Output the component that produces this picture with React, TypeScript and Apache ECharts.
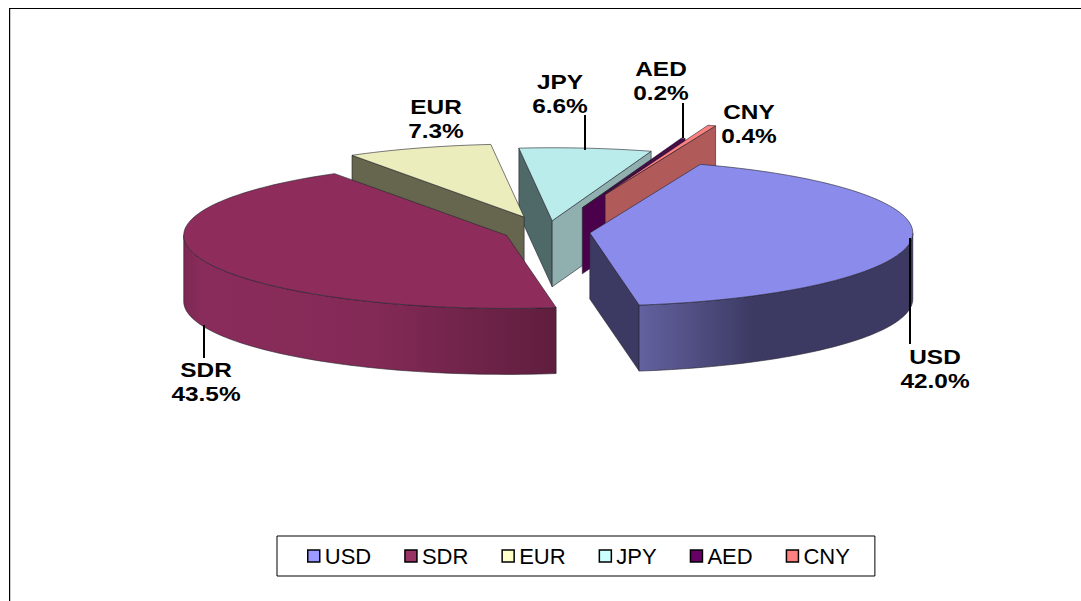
import React, { useEffect, useRef } from "react";
import * as echarts from "echarts";

const categories = ["USD", "SDR", "EUR", "JPY", "AED", "CNY"];
const shares = [42.0, 43.5, 7.3, 6.6, 0.2, 0.4];
const explosions = [43, 43, 70, 50, 113, 176];
const topColors = ["#8b8bec", "#8e2c5c", "#ecedbd", "#bbecec", "#4a004a", "#ff8080"];
const legendColors = ["#9999ff", "#993366", "#ffffcc", "#ccffff", "#660066", "#ff8080"];
const startWallColors = ["#3c3a63", "#5c1d3d", "#66664e", "#4f6868", "#4a004a", "#b05a5a"];
const endWallColors = ["#3c3a63", "#5c1d3d", "#66664e", "#90b0b0", "#4a004a", "#b05a5a"];
const paintOrder = ["JPY", "EUR", "AED", "CNY", "SDR", "USD"];

// layout of the hand-placed labels: [centre x, text top y, leader x, leader y1, leader y2]
const labelLayout: Record<string, number[]> = {
  USD: [935, 346, 910, 238, 344],
  SDR: [206, 359, 204, 325, 358],
  EUR: [436, 96],
  JPY: [560, 71, 585, 115, 150],
  AED: [661, 58, 683, 103, 138],
  CNY: [749, 101],
};

const CX = 547;
const CY = 232;
const RX = 323;
const RY = 73;
const DEPTH = 66;
const START_ANGLE = -70;
const TOTAL = shares.reduce((a, b) => a + b, 0);
const rad = (d: number) => (d * Math.PI) / 180;

function wallFill(name: string, color: string) {
  if (name === "USD") {
    return {
      type: "linear", x: 0, y: 0, x2: 1, y2: 0,
      colorStops: [
        { offset: 0, color: "#63619f" },
        { offset: 0.42, color: "#3c3a63" },
        { offset: 1, color: "#3c3a63" },
      ],
    };
  }
  if (name === "SDR") {
    return {
      type: "linear", x: 0, y: 0, x2: 1, y2: 0,
      colorStops: [
        { offset: 0, color: "#7c2852" },
        { offset: 0.05, color: "#8a2c5b" },
        { offset: 0.5, color: "#842a57" },
        { offset: 1, color: "#5f1e3e" },
      ],
    };
  }
  return color;
}

function makeRenderItem(index: number) {
  const name = categories[index];
  return (_params: any, api: any) => {
    const value = api.value(0);
    const before = shares.slice(0, index).reduce((a, b) => a + b, 0);
    const t1 = START_ANGLE + (before / TOTAL) * 360;
    const t2 = t1 + (value / TOTAL) * 360;
    const mid = rad((t1 + t2) / 2);
    const ox = CX + explosions[index] * Math.cos(mid);
    const oy = CY + (explosions[index] * Math.sin(mid) * RY) / RX;
    const pt = (t: number, dz = 0) => [ox + RX * Math.cos(rad(t)), oy + RY * Math.sin(rad(t)) + dz];
    const arc = (a: number, b: number, dz = 0) => {
      const n = Math.max(2, Math.ceil(Math.abs(b - a) / 1.5));
      const out: number[][] = [];
      for (let i = 0; i <= n; i++) out.push(pt(a + ((b - a) * i) / n, dz));
      return out;
    };
    const edge = { stroke: "#22222a", lineWidth: 0.6 };
    const children: any[] = [];
    const wall = (p: number[][], fill: any) =>
      children.push({ type: "polygon", shape: { points: p }, style: { fill, ...edge }, silent: true });

    if (Math.cos(rad(t1)) < 0) {
      wall([[ox, oy], pt(t1), pt(t1, DEPTH), [ox, oy + DEPTH]], startWallColors[index]);
    }
    if (Math.cos(rad(t2)) > 0) {
      wall([[ox, oy], pt(t2), pt(t2, DEPTH), [ox, oy + DEPTH]], endWallColors[index]);
    }
    const a = Math.max(t1, 0);
    const b = Math.min(t2, 180);
    if (b > a) {
      wall([...arc(a, b), ...arc(b, a, DEPTH)], wallFill(name, startWallColors[index]));
    }
    children.push({
      type: "polygon",
      shape: { points: [[ox, oy], ...arc(t1, t2)] },
      style: { fill: topColors[index], ...edge },
      silent: true,
    });
    return { type: "group", children };
  };
}

function labelElements() {
  const out: any[] = [];
  categories.forEach((name, i) => {
    const [x, y, lx, ly1, ly2] = labelLayout[name];
    out.push({
      type: "text",
      x,
      y,
      z: 50,
      scaleX: 1.22,
      style: {
        text: `${name}\n${shares[i].toFixed(1)}%`,
        font: "bold 20px 'Liberation Sans', Arial, sans-serif",
        lineHeight: 23.5,
        fill: "#000",
        align: "center",
        verticalAlign: "top",
      },
      originX: 0,
      originY: 0,
    });
    if (lx !== undefined) {
      out.push({
        type: "line",
        z: 50,
        shape: { x1: lx, y1: ly1, x2: lx, y2: ly2 },
        style: { stroke: "#000", lineWidth: 2 },
      });
    }
  });
  return out;
}

export default function App() {
  const ref = useRef<HTMLDivElement>(null);
  useEffect(() => {
    const chart = echarts.init(ref.current!, undefined, { renderer: "svg" });
    chart.setOption({
      animation: false,
      backgroundColor: "#ffffff",
      tooltip: { show: false },
      legend: {
        data: categories,
        left: 277,
        top: 536,
        orient: "horizontal",
        icon: "rect",
        selectedMode: false,
        itemWidth: 12,
        itemHeight: 12,
        itemGap: 33,
        padding: [9, 25, 9, 30],
        borderColor: "#000",
        borderWidth: 1,
        itemStyle: { borderColor: "#000", borderWidth: 1.5 },
        textStyle: {
          fontFamily: "'Liberation Sans', Arial, sans-serif",
          fontSize: 22,
          color: "#000",
        },
      },
      series: categories.map((name, i) => ({
        type: "custom",
        name,
        coordinateSystem: "none",
        z: 2 + paintOrder.indexOf(name),
        silent: true,
        itemStyle: { color: legendColors[i] },
        data: [[shares[i]]],
        renderItem: makeRenderItem(i),
      })),
      graphic: [
        {
          type: "line",
          z: 40,
          shape: { x1: 9, y1: 8.5, x2: 1081, y2: 8.5 },
          style: { stroke: "#000", lineWidth: 1 },
        },
        {
          type: "line",
          z: 40,
          shape: { x1: 9.5, y1: 8, x2: 9.5, y2: 601 },
          style: { stroke: "#000", lineWidth: 1 },
        },
        {
          type: "line",
          z: 40,
          shape: { x1: 10.5, y1: 9, x2: 10.5, y2: 601 },
          style: { stroke: "#c8c8c8", lineWidth: 1 },
        },
        ...labelElements(),
      ],
    });
    return () => chart.dispose();
  }, []);
  return <div ref={ref} style={{ position: "absolute", left: 0, top: 0, width: 1081, height: 601 }} />;
}
